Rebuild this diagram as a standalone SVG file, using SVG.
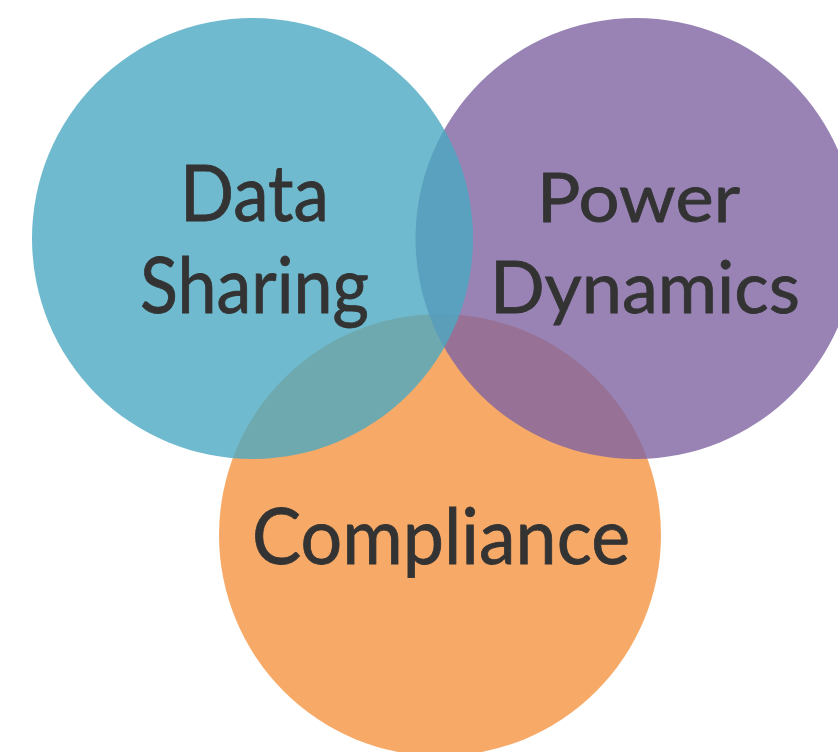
<svg xmlns="http://www.w3.org/2000/svg" width="838" height="752" viewBox="0 0 838 752">
  <style>
    .label { font-family: "Lato", "Open Sans", "Liberation Sans", sans-serif; fill: #333333; stroke: #333333; stroke-width: 0.8; }
    .set { opacity: 0.8; }
  </style>
  <rect width="838" height="752" fill="#ffffff"/>
  <!-- Three overlapping sets, bottom to top -->
  <g id="compliance">
    <circle cx="440" cy="535" r="221" fill="#f7aa68"/>
    <text class="label" x="252" y="564" font-size="78" textLength="378" lengthAdjust="spacingAndGlyphs">Compliance</text>
  </g>
  <g id="power-dynamics">
    <circle class="set" cx="636" cy="238.5" r="220.5" fill="#7e64a1"/>
    <text class="label" x="537" y="222" font-size="67" textLength="203" lengthAdjust="spacingAndGlyphs">Power</text>
    <text class="label" x="490" y="313" font-size="71" textLength="310" lengthAdjust="spacingAndGlyphs">Dynamics</text>
  </g>
  <g id="data-sharing">
    <circle class="set" cx="252.5" cy="238.5" r="220.5" fill="#4ba9c2"/>
    <text class="label" x="180" y="221" font-size="77" textLength="149" lengthAdjust="spacingAndGlyphs">Data</text>
    <text class="label" x="140" y="313" font-size="77" textLength="229" lengthAdjust="spacingAndGlyphs">Sharing</text>
  </g>
</svg>
